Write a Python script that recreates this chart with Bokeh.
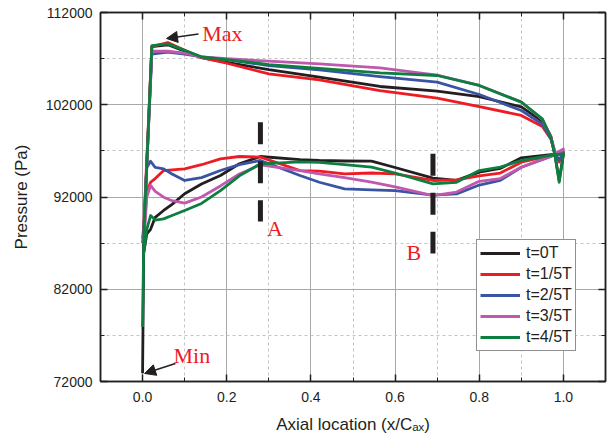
from bokeh.plotting import figure
from bokeh.models import (Range1d, FixedTicker, LinearAxis, Legend, LegendItem,
                          Label, Arrow, NormalHead, PrintfTickFormatter)
from bokeh.embed import file_html
from bokeh.resources import INLINE

# ---------------- data ----------------
x_upper = [0.0, 0.003, 0.022, 0.06, 0.1, 0.14, 0.2, 0.3, 0.42, 0.564, 0.7, 0.8,
           0.9, 0.95, 0.97, 0.98, 0.99, 1.0]
x_lower = [0.97, 0.9, 0.85, 0.8, 0.746, 0.69, 0.6, 0.544, 0.48, 0.42, 0.374, 0.28,
           0.23, 0.185, 0.14, 0.1, 0.07, 0.05, 0.03, 0.019, 0.01, 0.003]

labels = ["t=0T", "t=1/5T", "t=2/5T", "t=3/5T", "t=4/5T"]

upper_0T = [72900, 88000, 108300, 108500, 107800, 107100, 106600, 105800, 105000,
            103980, 103470, 102890, 101760, 100200, 98600, 96500, 93800, 96600]
lower_0T = [96600, 96250, 95100, 94690, 93800, 94050, 95200, 95880, 95900, 95960,
            96060, 96390, 95600, 94330, 93400, 92350, 91200, 90540, 89800, 88500,
            88000, 86000]

upper_1T = [87500, 89000, 108300, 108750, 107900, 107100, 106500, 105350, 104700,
            103540, 102710, 101810, 100840, 99640, 98300, 96800, 95800, 96800]
lower_1T = [96500, 95770, 94600, 94300, 93860, 93790, 94500, 94600, 94500, 94800,
            94870, 96320, 96390, 96140, 95500, 95050, 94950, 94870, 94000, 93600,
            92500, 88000]

upper_2T = [87000, 88500, 107500, 107700, 107500, 107200, 106900, 106250, 105790,
            105060, 104450, 103110, 101380, 99900, 98400, 96700, 96000, 96900]
lower_2T = [96400, 95230, 93800, 93300, 92330, 92200, 92700, 92770, 92880, 93600,
            94330, 95960, 95500, 94870, 94100, 93790, 94500, 95050, 95200, 95880,
            95200, 87000]

upper_3T = [86960, 88000, 107800, 107800, 107600, 107200, 107000, 106720, 106440,
            106000, 105200, 104090, 102300, 100400, 98600, 96900, 96600, 97200]
lower_3T = [96400, 95230, 94000, 93700, 92540, 92160, 93100, 93600, 94100, 94510,
            94870, 95490, 94500, 93200, 92000, 91330, 91600, 91980, 92600, 93250,
            92000, 87000]

upper_4T = [77900, 88000, 108400, 108600, 107900, 107200, 106900, 106360, 105950,
            105460, 105170, 104090, 102280, 100480, 98500, 96500, 93600, 96700]
lower_4T = [96500, 95960, 95230, 94870, 93600, 93430, 94600, 95230, 95500, 95750,
            95800, 95600, 94300, 92700, 91300, 90540, 90000, 89630, 89500, 89990,
            88500, 86000]

uppers = [upper_0T, upper_1T, upper_2T, upper_3T, upper_4T]
lowers = [lower_0T, lower_1T, lower_2T, lower_3T, lower_4T]
colors = ["#231f20", "#ed1c24", "#3a54a4", "#c058ad", "#0c7f40"]

# dashed markers (A, B)
marker_x = [0.28, 0.69]
marker_top = [100110, 96680]
marker_bottom = [89340, 85880]

x_ticks = [0.0, 0.2, 0.4, 0.6, 0.8, 1.0]
x_minor = [0.1, 0.3, 0.5, 0.7, 0.9]
y_ticks = [72000, 82000, 92000, 102000, 112000]
y_minor = [77000, 87000, 97000, 107000]

# ---------------- figure ----------------
p = figure(frame_width=505, frame_height=369,
           x_range=Range1d(-0.1, 1.1), y_range=Range1d(72000, 112000),
           output_backend="svg", toolbar_location=None,
           min_border_left=100, min_border_right=5, min_border_top=12,
           min_border_bottom=56, background_fill_color="white",
           border_fill_color="white")
p.outline_line_color = "#231f20"
p.outline_line_width = 1.5

xt = FixedTicker(ticks=x_ticks, minor_ticks=x_minor)
yt = FixedTicker(ticks=y_ticks, minor_ticks=y_minor)

FONT = "Liberation Sans"
INK = "#231f20"

def style_axis(ax):
    ax.axis_line_color = INK
    ax.axis_line_width = 1.5
    ax.major_tick_line_color = INK
    ax.minor_tick_line_color = INK
    ax.major_tick_line_width = 1.5
    ax.minor_tick_line_width = 1
    ax.major_tick_in = 7
    ax.major_tick_out = 0
    ax.minor_tick_in = 4
    ax.minor_tick_out = 0
    ax.major_label_text_font = FONT
    ax.major_label_text_font_size = "14px"
    ax.major_label_text_color = INK
    ax.axis_label_text_font = FONT
    ax.axis_label_text_font_size = "17px"
    ax.axis_label_text_font_style = "normal"
    ax.axis_label_text_color = INK

p.xaxis.ticker = xt
p.yaxis.ticker = yt
style_axis(p.xaxis[0])
style_axis(p.yaxis[0])
p.xaxis.formatter = PrintfTickFormatter(format="%.1f")
p.yaxis.formatter = PrintfTickFormatter(format="%d")
p.xaxis.major_label_standoff = 10
p.yaxis.major_label_standoff = 8
p.xaxis.axis_label = "Axial location (x/C\u2090\u2093)"
p.yaxis.axis_label = "Pressure (Pa)"
p.xaxis.axis_label_standoff = 10
p.yaxis.axis_label_standoff = 12

for loc, tk, ticks in (("above", xt, x_ticks), ("right", yt, y_ticks)):
    ax = LinearAxis(ticker=tk)
    style_axis(ax)
    ax.major_label_overrides = {t: "" for t in ticks}
    ax.major_label_standoff = 0
    p.add_layout(ax, loc)

for g, tk in ((p.xgrid[0], xt), (p.ygrid[0], yt)):
    g.ticker = tk
    g.grid_line_color = "#a8a8a8"
    g.grid_line_width = 1
    g.minor_grid_line_color = "#c4c4c4"
    g.minor_grid_line_dash = "3 3"
    g.minor_grid_line_width = 1

# ---------------- curves ----------------
items = []
for lab, up, lo, c in zip(labels, uppers, lowers, colors):
    xs = x_upper + x_lower
    ys = up + lo
    r = p.line(xs, ys, line_color=c, line_width=2.8, line_join="round")
    items.append(LegendItem(label=lab, renderers=[r]))

p.segment(x0=marker_x, y0=marker_top, x1=marker_x, y1=marker_bottom,
          line_color=INK, line_width=5, line_dash="22 17", line_cap="butt")

# ---------------- annotations ----------------
RED = "#ed1c24"
SERIF = "Liberation Serif"
for txt, lx, ly in (("Max", 0.1415, 109750), ("Min", 0.0735, 74800),
                    ("A", 0.2955, 88550), ("B", 0.627, 86000)):
    p.add_layout(Label(x=lx, y=ly, text=txt, text_font=SERIF, text_font_size="22px",
                       text_color=RED, text_align="left", text_baseline="middle"))

for xs_, ys_, xe_, ye_ in ((0.1327, 109670, 0.0569, 109180),
                           (0.078, 73950, 0.0047, 72870)):
    p.add_layout(Arrow(end=NormalHead(size=11, fill_color=INK, line_color=INK),
                       x_start=xs_, y_start=ys_, x_end=xe_, y_end=ye_,
                       line_color=INK, line_width=1.5))

legend = Legend(items=items, location=(376, 30), padding=3, margin=0,
                spacing=1, glyph_width=40, glyph_height=20, label_height=20,
                label_standoff=6, label_text_font=FONT, label_text_font_size="16px",
                label_text_color=INK, border_line_color=INK, border_line_width=1.2,
                background_fill_color="white", background_fill_alpha=1)
p.add_layout(legend)

open("out.html", "w").write(file_html(p, INLINE))
